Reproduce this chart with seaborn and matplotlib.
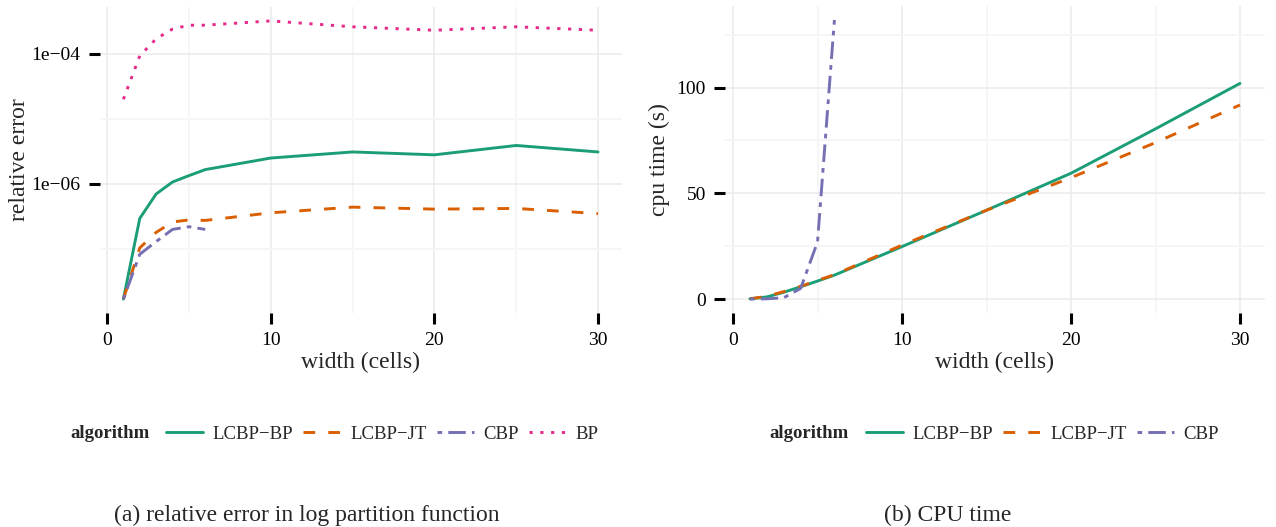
import numpy as np
import pandas as pd
import matplotlib
matplotlib.use('Agg')
import matplotlib.pyplot as plt
from matplotlib.lines import Line2D
from matplotlib.ticker import NullFormatter
import seaborn as sns

# grid widths (cells) used in the experiments
widths = [1, 2, 3, 4, 5, 6, 10, 15, 20, 25, 30]
cbp_widths = [1, 2, 3, 4, 5, 6]

# (a) relative error in log partition function
err_lcbp_bp = [1.7e-8, 2.95e-7, 7.0e-7, 1.07e-6, 1.34e-6, 1.66e-6, 2.5e-6, 3.1e-6, 2.8e-6, 3.9e-6, 3.1e-6]
err_lcbp_jt = [1.7e-8, 1.04e-7, 1.8e-7, 2.6e-7, 2.8e-7, 2.75e-7, 3.6e-7, 4.4e-7, 4.1e-7, 4.2e-7, 3.5e-7]
err_cbp = [1.7e-8, 8.3e-8, 1.3e-7, 2.0e-7, 2.2e-7, 2.0e-7]
err_bp = [2.0e-5, 9.3e-5, 1.7e-4, 2.4e-4, 2.75e-4, 2.75e-4, 3.2e-4, 2.6e-4, 2.3e-4, 2.6e-4, 2.3e-4]

# (b) cpu time in seconds
cpu_lcbp_bp = [0.1, 1.0, 3.2, 5.8, 8.5, 11.3, 24.8, 42.0, 59.5, 80.5, 102.0]
cpu_lcbp_jt = [0.1, 1.3, 3.5, 6.0, 8.8, 11.5, 25.5, 42.0, 57.4, 74.0, 91.8]
cpu_cbp = [0.02, 0.1, 0.6, 5.0, 27.0, 132.0]

algorithms = ['LCBP\u2212BP', 'LCBP\u2212JT', 'CBP', 'BP']
colors = ['#1B9E77', '#D95F02', '#7570B3', '#E7298A']
dash_styles = ['', (4, 4.5), (1.6, 2.1, 6, 2.1), (1.1, 2.6)]

x_ticks = [0, 10, 20, 30]
x_minor = [5, 15, 25]
err_ticks = [1e-6, 1e-4]
err_tick_labels = ['1e\u221206', '1e\u221204']
err_minor = [1e-7, 1e-5]
cpu_ticks = [0, 50, 100]
cpu_minor = [25, 75, 125]

palette = dict(zip(algorithms, colors))
dash_map = dict(zip(algorithms, dash_styles))
LW = 2.1

sns.set_theme(style='white')
plt.rcParams['font.family'] = ['Liberation Serif', 'DejaVu Serif']


def long_frame(series):
    parts = [pd.DataFrame({'width': xs, 'value': ys, 'algorithm': name}) for name, xs, ys in series]
    return pd.concat(parts, ignore_index=True)


def expand(lo, hi, frac=0.05):
    pad = (hi - lo) * frac
    return lo - pad, hi + pad


def style_axes(ax):
    for s in ax.spines.values():
        s.set_visible(False)
    ax.set_axisbelow(True)
    ax.set_xticks(x_ticks)
    ax.set_xticks(x_minor, minor=True)
    ax.grid(which='major', color='#EBEBEB', lw=1.1)
    ax.grid(which='minor', color='#F6F6F6', lw=1.3)
    ax.tick_params(which='major', bottom=True, left=True, length=8, width=2.2,
                   color='black', direction='out', labelsize=14, labelcolor='black')
    ax.tick_params(axis='x', which='major', pad=5.5)
    ax.tick_params(axis='y', which='major', pad=6)
    ax.tick_params(which='minor', length=0)
    ax.set_xlim(*expand(1, 30))


def add_legend(fig, names, title_right, key_left, y):
    handles = [Line2D([], [], color=palette[n], lw=LW,
                      **({'dashes': dash_map[n]} if dash_map[n] else {'linestyle': '-'}))
               for n in names]
    fig.text(title_right / 1276, y, 'algorithm', ha='right', va='center',
             fontsize=13.5, fontweight='bold')
    fig.legend(handles, names, loc='center left', bbox_to_anchor=(key_left / 1276, y),
               ncol=len(names), frameon=False, borderpad=0, borderaxespad=0,
               handlelength=1.97, handletextpad=0.53, columnspacing=0.53, fontsize=13.5)


fig = plt.figure(figsize=(12.76, 5.27), dpi=100)
ax1 = fig.add_axes([0.0781, 0.4061, 0.4092, 0.5806])
ax2 = fig.add_axes([0.5685, 0.4061, 0.4225, 0.5825])

# panel (a): relative error, log scale
df_err = long_frame([
    (algorithms[0], widths, err_lcbp_bp),
    (algorithms[1], widths, err_lcbp_jt),
    (algorithms[2], cbp_widths, err_cbp),
    (algorithms[3], widths, err_bp),
])
ax1.set_yscale('log')
sns.lineplot(data=df_err, x='width', y='value', hue='algorithm', style='algorithm',
             hue_order=algorithms, style_order=algorithms, palette=palette, dashes=dash_map,
             linewidth=LW, estimator=None, legend=False, ax=ax1)
style_axes(ax1)
lo, hi = expand(np.log10(df_err['value'].min()), np.log10(df_err['value'].max()))
ax1.set_ylim(10 ** lo, 10 ** hi)
ax1.set_yticks(err_ticks)
ax1.set_yticklabels(err_tick_labels)
ax1.set_yticks(err_minor, minor=True)
ax1.yaxis.set_minor_formatter(NullFormatter())
ax1.tick_params(which='minor', length=0)
ax1.set_xlabel('width (cells)', fontsize=17)
ax1.set_ylabel('relative error', fontsize=17)
ax1.xaxis.set_label_coords(0.5, -0.128)
ax1.yaxis.set_label_coords(-0.133, 0.5)

# panel (b): cpu time
df_cpu = long_frame([
    (algorithms[0], widths, cpu_lcbp_bp),
    (algorithms[1], widths, cpu_lcbp_jt),
    (algorithms[2], cbp_widths, cpu_cbp),
])
sns.lineplot(data=df_cpu, x='width', y='value', hue='algorithm', style='algorithm',
             hue_order=algorithms[:3], style_order=algorithms[:3], palette=palette,
             dashes=dash_map, linewidth=LW, estimator=None, legend=False, ax=ax2)
style_axes(ax2)
ax2.set_ylim(*expand(0, df_cpu['value'].max()))
ax2.set_yticks(cpu_ticks)
ax2.set_yticks(cpu_minor, minor=True)
ax2.tick_params(which='minor', length=0)
ax2.set_xlabel('width (cells)', fontsize=17)
ax2.set_ylabel('cpu time (s)', fontsize=17)
ax2.xaxis.set_label_coords(0.5, -0.128)
ax2.yaxis.set_label_coords(-0.103, 0.5)

legend_y = 1 - 434 / 527
add_legend(fig, algorithms, 149.3, 166, legend_y)
add_legend(fig, algorithms[:3], 849, 866, legend_y)

fig.text(307 / 1276, 1 - 515 / 527, '(a) relative error in log partition function',
         ha='center', va='center', fontsize=17)
fig.text(948 / 1276, 1 - 515 / 527, '(b) CPU time', ha='center', va='center', fontsize=17)

fig.savefig('out.png', dpi=100)
